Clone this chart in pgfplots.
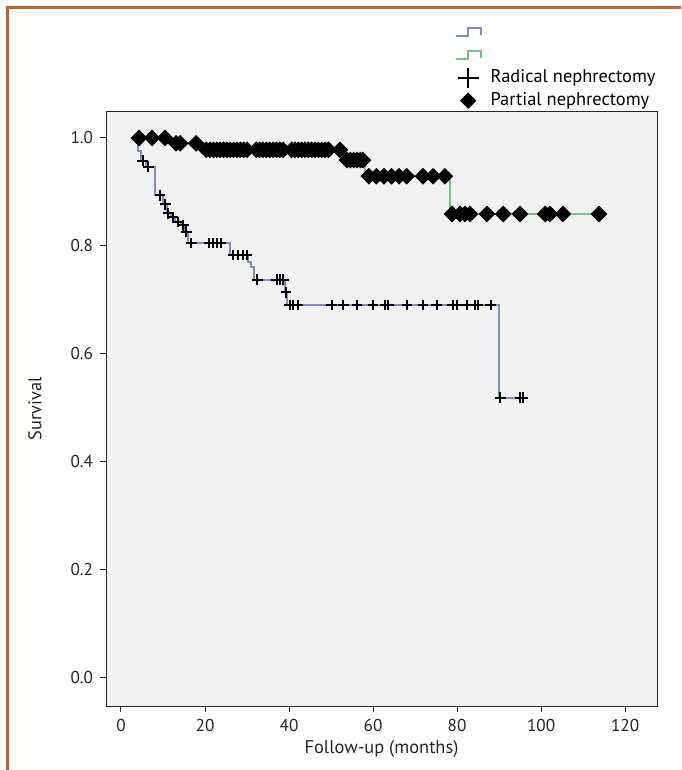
\documentclass[border=0pt]{standalone}
\usepackage{fontspec}
\setmainfont{PT Sans}
\usepackage{pgfplots}
\pgfplotsset{compat=1.18}
\definecolor{kmblue}{RGB}{128,138,205}
\definecolor{kmgreen}{RGB}{120,192,140}
\definecolor{framecol}{RGB}{200,95,45}
\definecolor{panel}{RGB}{242,242,242}
\begin{document}
\begin{tikzpicture}
\path[use as bounding box] (-53pt,-32pt) rectangle (287.5pt,353pt);
\draw[framecol, line width=1.5pt] (-49pt,-32pt) -- (-49pt,349pt) -- (287.5pt,349pt);
\begin{axis}[
  scale only axis,
  width=275.5pt, height=297pt,
  xmin=-3.57, xmax=127.6,
  ymin=-0.0538, ymax=1.0482,
  xtick={0,20,40,60,80,100,120},
  ytick={0,0.2,0.4,0.6,0.8,1.0},
  yticklabel style={/pgf/number format/.cd, fixed, fixed zerofill, precision=1},
  /pgf/number format/assume math mode=true,
  tick align=outside,
  xtick pos=bottom, ytick pos=left,
  major tick length=3pt,
  axis background/.style={fill=panel},
  axis line style={black!85, line width=0.5pt},
  tick style={black!85, line width=0.5pt},
  ticklabel style={font=\fontsize{8.6}{10}\selectfont, black!85},
  label style={font=\fontsize{9.2}{11}\selectfont, black!85},
  xlabel={Follow-up (months)},
  ylabel={Survival},
  xlabel style={at={(axis description cs:0.5,-0.073)}, anchor=center},
  ylabel style={at={(axis description cs:-0.129,0.5)}, anchor=center},
  legend cell align=left,
  legend style={draw=none, fill=none, at={(axis description cs:0.633,1.154)},
    anchor=north west, inner sep=0pt, column sep=3pt,
    font=\fontsize{9.2}{11}\selectfont,
    nodes={text height=7pt, text depth=2pt, inner sep=1.2pt}},
]

% Radical nephrectomy, step curve
\addplot[const plot, kmblue, line width=1pt,
  legend image code/.code={\draw[kmblue, line width=1pt] (0pt,-2pt) -- (6pt,-2pt) -- (6pt,2pt) -- (12.5pt,2pt) -- (12.5pt,-1.5pt);}]
coordinates {
  (3.3,1.0) (4.0,0.975) (4.8,0.958) (6.0,0.947) (8.1,0.894) (10.0,0.877)
  (11.0,0.860) (11.8,0.853) (12.9,0.844) (14.3,0.838) (15.2,0.826) (16.0,0.805)
  (26.0,0.783) (30.2,0.770) (31.0,0.760) (31.7,0.737) (39.0,0.714) (39.5,0.690)
  (90.0,0.518) (96.2,0.518)
};
\addlegendentry{}

% Partial nephrectomy, step curve
\addplot[const plot, kmgreen, line width=1pt,
  legend image code/.code={\draw[kmgreen, line width=1pt] (0pt,-2pt) -- (6pt,-2pt) -- (6pt,2pt) -- (12.5pt,2pt) -- (12.5pt,-1.5pt);}]
coordinates {
  (3.3,1.0) (11.5,0.990) (19.8,0.978) (53.1,0.959) (58.1,0.929) (78.3,0.859) (113.8,0.859)
};
\addlegendentry{}

% censored, radical
\addplot[only marks, mark=+, mark size=2.7pt, black, line width=1pt,
  legend image code/.code={\draw[black, line width=0.7pt, mark=+, mark size=5.2pt] plot coordinates {(6pt,0pt)};}]
coordinates {
  (5.2,0.958) (6.5,0.947) (9.3,0.894) (10.5,0.877) (11.2,0.860) (12.4,0.853)
  (13.6,0.844) (14.8,0.838) (15.5,0.826) (16.7,0.805) (21.0,0.805) (22.0,0.805)
  (22.8,0.805) (23.8,0.805) (26.7,0.783) (27.9,0.783) (29.0,0.783) (30.0,0.783)
  (32.4,0.737) (37.1,0.737) (37.9,0.737) (38.6,0.737) (39.3,0.714) (40.2,0.690)
  (40.9,0.690) (42.1,0.690) (50.2,0.690) (52.9,0.690) (56.2,0.690) (60.0,0.690)
  (62.9,0.690) (63.6,0.690) (68.1,0.690) (71.9,0.690) (75.2,0.690) (79.0,0.690)
  (80.0,0.690) (82.4,0.690) (84.3,0.690) (85.0,0.690) (88.0,0.690) (90.3,0.518)
  (95.0,0.518) (95.7,0.518)
};
\addlegendentry{Radical nephrectomy}

% censored, partial
\addplot[only marks, mark=square*, mark size=2.75pt, mark options={rotate=45}, black,
  legend image code/.code={\draw[black, mark=square*, mark size=2.7pt, mark options={rotate=45}] plot coordinates {(6pt,0pt)};}]
coordinates {
  (4.3,1.0) (7.4,1.0) (10.5,1.0)
  (13.1,0.990) (14.1,0.990) (17.9,0.990)
  (20.3,0.978) (21.2,0.978) (22.0,0.978) (22.8,0.978) (23.6,0.978) (24.4,0.978)
  (25.2,0.978) (26.0,0.978) (26.8,0.978) (27.6,0.978) (28.4,0.978) (29.2,0.978)
  (30.0,0.978) (32.2,0.978) (33.0,0.978) (33.8,0.978) (34.6,0.978) (35.4,0.978)
  (36.2,0.978) (37.0,0.978) (37.8,0.978) (38.6,0.978) (40.6,0.978) (41.4,0.978)
  (42.2,0.978) (43.0,0.978) (43.8,0.978) (44.6,0.978) (45.4,0.978) (46.2,0.978)
  (47.0,0.978) (47.8,0.978) (48.6,0.978) (49.4,0.978) (52.1,0.978)
  (53.8,0.959) (54.6,0.959) (55.4,0.959) (56.2,0.959) (57.0,0.959) (57.6,0.959)
  (59.0,0.929) (60.8,0.929) (62.6,0.929) (64.4,0.929) (66.2,0.929) (68.0,0.929)
  (71.9,0.929) (74.3,0.929) (77.1,0.929)
  (78.8,0.859) (80.7,0.859) (81.9,0.859) (83.1,0.859) (87.1,0.859) (91.0,0.859)
  (95.0,0.859) (101.0,0.859) (102.1,0.859) (105.2,0.859) (113.8,0.859)
};
\addlegendentry{Partial nephrectomy}
\end{axis}
\end{tikzpicture}
\end{document}
